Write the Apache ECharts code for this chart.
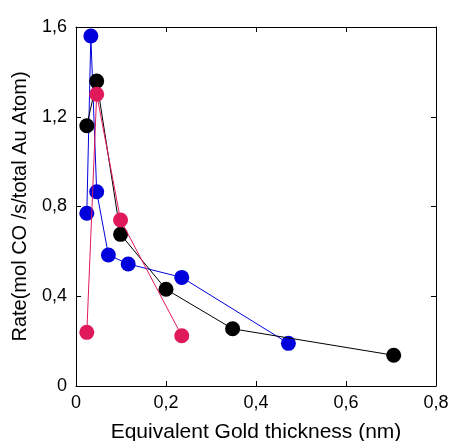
<!DOCTYPE html>
<html><head><meta charset="utf-8">
<script src="https://cdn.jsdelivr.net/npm/echarts@6/dist/echarts.min.js"></script>
<style>html,body{margin:0;padding:0;background:#fff}#c{width:453px;height:441px}</style>
</head><body><div id="c"></div>
<script>
const blueX = [0.024, 0.033, 0.046, 0.072, 0.116, 0.235, 0.472];
const blueY = [0.77, 1.56, 0.866, 0.584, 0.544, 0.484, 0.19];
const blackX = [0.024, 0.046, 0.099, 0.200, 0.348, 0.706];
const blackY = [1.16, 1.359, 0.676, 0.431, 0.255, 0.137];
const redX = [0.024, 0.046, 0.099, 0.235];
const redY = [0.239, 1.30, 0.74, 0.224];
const xTicks = [0, 0.2, 0.4, 0.6, 0.8];
const yTicks = [0, 0.4, 0.8, 1.2, 1.6];

const fmt = v => (Math.abs(v) < 1e-9 ? '0' : String(Math.round(v * 10) / 10).replace('.', ','));
const zip = (a, b) => a.map((v, i) => [v, b[i]]);
const font = 'Liberation Sans, Arial, sans-serif';
const axisCommon = {
  min: 0, axisLine: { show: true, onZero: false, lineStyle: { color: '#000', width: 1 } },
  axisTick: { show: true, inside: true, length: 5, lineStyle: { color: '#000' } },
  splitLine: { show: false }
};
const chart = echarts.init(document.getElementById('c'));
function mk(name, color, xs, ys, z) {
  return {
    name, type: 'line', data: zip(xs, ys), z,
    symbol: 'circle', symbolSize: 15, showSymbol: true,
    lineStyle: { color, width: 1 }, itemStyle: { color },
    animation: false
  };
}
chart.setOption({
  animation: false,
  grid: { left: 76, right: 17, top: 27, bottom: 55, containLabel: false, outerBoundsMode: 'none' },
  xAxis: [
    Object.assign({}, axisCommon, {
      type: 'value', max: xTicks[xTicks.length - 1], interval: xTicks[1] - xTicks[0], position: 'bottom',
      name: 'Equivalent Gold thickness (nm)', nameLocation: 'middle', nameGap: 36,
      nameTextStyle: { fontFamily: font, fontSize: 21, color: '#000' },
      axisLabel: { formatter: fmt, fontFamily: font, fontSize: 18, color: '#000', margin: 8 }
    }),
    Object.assign({}, axisCommon, {
      type: 'value', max: xTicks[xTicks.length - 1], interval: xTicks[1] - xTicks[0], position: 'top', axisLabel: { show: false }
    })
  ],
  yAxis: [
    Object.assign({}, axisCommon, {
      type: 'value', max: yTicks[yTicks.length - 1], interval: yTicks[1] - yTicks[0], position: 'left',
      name: 'Rate(mol CO /s/total Au Atom)', nameLocation: 'middle', nameGap: 46, nameRotate: 90,
      nameTextStyle: { fontFamily: font, fontSize: 20, color: '#000' },
      axisLabel: { formatter: fmt, fontFamily: font, fontSize: 18, color: '#000', margin: 9 }
    }),
    Object.assign({}, axisCommon, {
      type: 'value', max: yTicks[yTicks.length - 1], interval: yTicks[1] - yTicks[0], position: 'right', axisLabel: { show: false }
    })
  ],
  series: [
    mk('blue', '#0000dd', blueX, blueY, 2),
    mk('black', '#000000', blackX, blackY, 3),
    mk('red', '#e01a5a', redX, redY, 4)
  ]
});
</script></body></html>
